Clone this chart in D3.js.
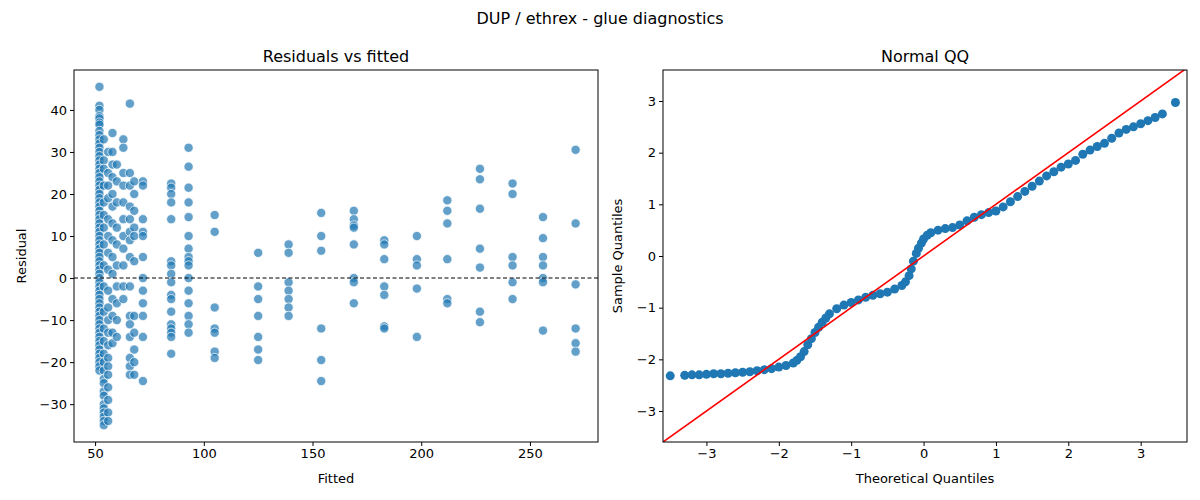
<!DOCTYPE html>
<html><head><meta charset="utf-8">
<script src="https://cdn.jsdelivr.net/npm/d3@7"></script>
<style>body{margin:0;background:#fff}text{font-family:"DejaVu Sans",sans-serif;fill:#000}</style>
</head><body><svg id="chart" width="1200" height="500"></svg>
<script>
// residuals grouped by fitted level
const fittedLevels = [52, 54, 56, 58, 60, 63, 66, 68, 72, 85, 93, 105, 125, 139, 154, 169, 183, 198, 212, 227, 242, 256, 271]
const residualGroups = [
  [45.5,41,40,38.5,38,37,36.5,35,34,33,32,31,30,29,28,27,26,25,24,23,22,21,20,19,18,17,16,15,14,13,12,11,10,9,8,7,6,5,4,3,2,1,0,-1,-2,-3,-4,-5,-6,-7,-8,-9,-10,-11,-12,-13,-14,-15,-16,-17,-18,-19,-20,-21,-22],
  [33,28,26,22,18,15,12,8,3,-2,-8,-12,-15,-18,-20,-22,-24,-25,-27,-28,-30,-31,-32,-33,-34,-35],
  [30,25,22,19,14,10,6,2,-3,-7,-10,-13,-16,-19,-21,-23,-26,-29,-32,-34],
  [34.5,30,27,24,20,17,13,9,5,1,-5,-9,-13,-15.5],
  [27,23,18,12,8,3,-2,-6,-10,-14],
  [33,31,25,22,18,14,10,7,3,-2,-5],
  [41.5,25,22,17,14,11,9,5,-2,-9,-11,-14,-19,-21,-23],
  [23,20,16,12,10,4,-9,-13,-17,-20,-23],
  [23,22,14,11,10,5,0,-3,-6,-9,-14,-24.5],
  [22.5,21.5,20,18,14,4,3,1,-1,-4,-5,-8,-11,-12,-13,-14,-18],
  [31,26.5,21.5,18,14.5,10,7,5,4,3,0,-3,-6,-9,-11,-13],
  [15,11,-7,-12,-13,-17.5,-19],
  [6,-2,-5,-9,-14,-17,-19.5],
  [8,6,-1,-3,-5,-7,-9],
  [15.5,10,6.5,-12,-19.5,-24.5],
  [16,14,12.5,12,8,0,-1,-6],
  [9,8,4.5,-2,-4,-11.5,-12],
  [10,4.5,3,-2.5,-14],
  [18.5,16,13,4.5,-5,-6],
  [26,23.5,16.5,7,2.5,-8,-10.5],
  [22.5,20,5,3,-1,-5],
  [14.5,9.5,5,3,0,-1,-12.5],
  [30.5,13,-1.5,-12,-15.5,-17.5]
]
const theoQ = [-3.5,-3.3,-3.2,-3.1,-3.0,-2.9,-2.8,-2.7,-2.6,-2.5,-2.4,-2.3,-2.2,-2.1,-2.0,-1.9,-1.8,-1.75,-1.7,-1.65,-1.6,-1.55,-1.5,-1.45,-1.4,-1.35,-1.3,-1.2,-1.1,-1.0,-0.9,-0.8,-0.7,-0.6,-0.5,-0.4,-0.3,-0.25,-0.2,-0.17,-0.14,-0.1,-0.07,-0.03,0,0.05,0.1,0.2,0.3,0.4,0.5,0.6,0.7,0.8,0.9,1.0,1.1,1.2,1.3,1.4,1.5,1.6,1.7,1.8,1.9,2.0,2.1,2.2,2.3,2.4,2.5,2.6,2.7,2.8,2.9,3.0,3.1,3.2,3.3,3.48]
const sampleQ = [-2.32,-2.31,-2.30,-2.30,-2.29,-2.28,-2.28,-2.27,-2.26,-2.25,-2.24,-2.22,-2.20,-2.18,-2.15,-2.12,-2.07,-2.02,-1.95,-1.85,-1.72,-1.6,-1.48,-1.38,-1.28,-1.2,-1.12,-1.02,-0.95,-0.9,-0.85,-0.8,-0.76,-0.73,-0.7,-0.64,-0.57,-0.5,-0.38,-0.25,-0.1,0.05,0.15,0.25,0.33,0.4,0.45,0.5,0.53,0.55,0.6,0.68,0.75,0.8,0.84,0.87,0.95,1.05,1.15,1.25,1.35,1.45,1.55,1.63,1.72,1.78,1.85,1.97,2.05,2.12,2.18,2.28,2.38,2.45,2.5,2.56,2.62,2.68,2.75,2.97]
const fittedTicks = [50, 100, 150, 200, 250]
const residTicks = [-30, -20, -10, 0, 10, 20, 30, 40]
const qqTicks = [-3, -2, -1, 0, 1, 2, 3]

const svg = d3.select('#chart')
const blue = '#1f77b4'

svg.append('text').attr('x', 600).attr('y', 24).attr('text-anchor', 'middle')
  .style('font-size', '16px').text('DUP / ethrex - glue diagnostics')

function frame(x0, x1, y0, y1, title, xlab, ylab, ylabX) {
  svg.append('text').attr('x', (x0 + x1) / 2).attr('y', y0 - 8).attr('text-anchor', 'middle')
    .style('font-size', '16px').text(title)
  svg.append('text').attr('x', (x0 + x1) / 2).attr('y', 483).attr('text-anchor', 'middle')
    .style('font-size', '13px').text(xlab)
  svg.append('text').attr('transform', `translate(${ylabX},${(y0 + y1) / 2}) rotate(-90)`)
    .attr('text-anchor', 'middle').style('font-size', '13px').text(ylab)
}

function axes(g, x, y, xt, yt, top, bottom, left) {
  g.append('g').attr('transform', `translate(0,${bottom})`)
    .call(d3.axisBottom(x).tickValues(xt).tickSize(4).tickFormat(d => String(d).replace('-', '\u2212')))
  g.append('g').attr('transform', `translate(${left},0)`)
    .call(d3.axisLeft(y).tickValues(yt).tickSize(4).tickFormat(d => String(d).replace('-', '\u2212')))
  g.selectAll('.tick text').style('font-size', '13px').attr('font-family', 'DejaVu Sans')
  g.selectAll('.domain').remove()
  const [a, b] = x.range()
  g.append('rect').attr('x', a).attr('y', top).attr('width', b - a).attr('height', bottom - top)
    .attr('fill', 'none').attr('stroke', '#000')
}

// left panel
const L = { x0: 74, x1: 598, y0: 70, y1: 442 }
const xL = d3.scaleLinear().domain([40.3, 281.3]).range([L.x0, L.x1])
const yL = d3.scaleLinear().domain([-39, 49.5]).range([L.y1, L.y0])
const gL = svg.append('g')
const pts = fittedLevels.flatMap((f, i) => residualGroups[i].map(r => [f, r]))
gL.append('line').attr('x1', L.x0).attr('x2', L.x1).attr('y1', yL(0)).attr('y2', yL(0))
  .attr('stroke', '#000').attr('stroke-dasharray', '4,2.5').attr('stroke-width', 1.1)
gL.selectAll('circle').data(pts).join('circle')
  .attr('cx', d => xL(d[0])).attr('cy', d => yL(d[1])).attr('r', 4.6)
  .attr('fill', blue).attr('fill-opacity', 0.7).attr('stroke', '#fff').attr('stroke-width', 0.7)
gL.select('line').raise()
axes(gL, xL, yL, fittedTicks, residTicks, L.y0, L.y1, L.x0)
frame(L.x0, L.x1, L.y0, L.y1, 'Residuals vs fitted', 'Fitted', 'Residual', 26)

// right panel
const R = { x0: 663, x1: 1187, y0: 70, y1: 442 }
const xR = d3.scaleLinear().domain([-3.6, 3.64]).range([R.x0, R.x1])
const yR = d3.scaleLinear().domain([-3.6, 3.6]).range([R.y1, R.y0])
const gR = svg.append('g')
gR.selectAll('circle').data(theoQ.map((t, i) => [t, sampleQ[i]])).join('circle')
  .attr('cx', d => xR(d[0])).attr('cy', d => yR(d[1])).attr('r', 4.5).attr('fill', blue)
gR.append('clipPath').attr('id', 'clipR').append('rect')
  .attr('x', R.x0).attr('y', R.y0).attr('width', R.x1 - R.x0).attr('height', R.y1 - R.y0)
gR.append('line').attr('clip-path', 'url(#clipR)')
  .attr('x1', xR(-3.6)).attr('y1', yR(-3.6)).attr('x2', xR(3.64)).attr('y2', yR(3.64))
  .attr('stroke', 'red').attr('stroke-width', 1.6)
axes(gR, xR, yR, qqTicks, qqTicks, R.y0, R.y1, R.x0)
frame(R.x0, R.x1, R.y0, R.y1, 'Normal QQ', 'Theoretical Quantiles', 'Sample Quantiles', 622)
</script></body></html>
